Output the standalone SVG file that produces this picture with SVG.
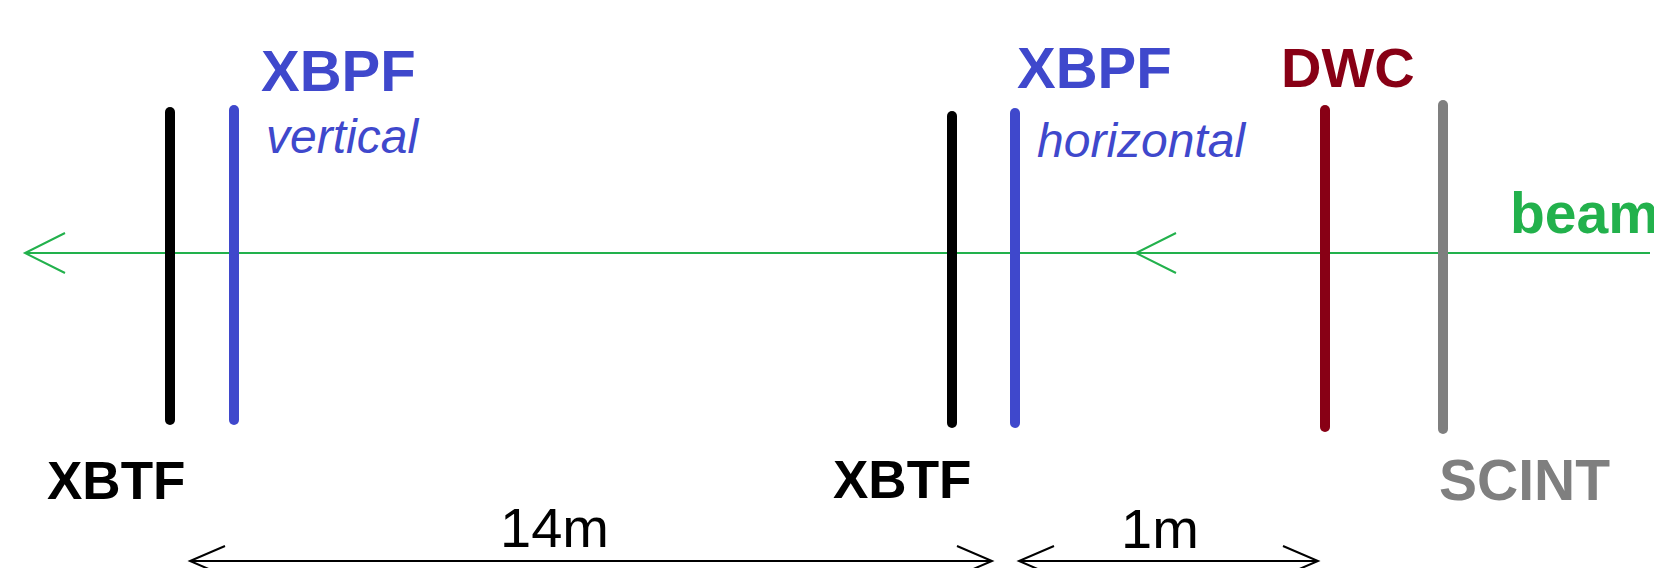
<svg xmlns="http://www.w3.org/2000/svg" width="1654" height="568" viewBox="0 0 1654 568">
  <style>
    .det { stroke-width: 10; stroke-linecap: round; fill: none; }
    .lbl { font-family: "Liberation Sans", Arial, sans-serif; font-weight: bold; }
    .sub { font-family: "Liberation Sans", Arial, sans-serif; font-style: italic; font-size: 48px; fill: #3f48cc; }
    .dimtxt { font-family: "Liberation Sans", Arial, sans-serif; font-size: 56px; fill: #000; }
    .beam { stroke: #22b14c; stroke-width: 2; fill: none; }
    .dim { stroke: #000; stroke-width: 2; fill: none; }
  </style>
  <defs>
    <marker id="gArrow" markerUnits="userSpaceOnUse" markerWidth="50" markerHeight="50" refX="0" refY="0" orient="auto" overflow="visible">
      <path d="M-40,-20 L0,0 L-40,20" fill="none" stroke="#22b14c" stroke-width="2"/>
    </marker>
    <marker id="kArrow" markerUnits="userSpaceOnUse" markerWidth="50" markerHeight="50" refX="0" refY="0" orient="auto-start-reverse" overflow="visible">
      <path d="M-35,-15 L0,0 L-35,15" fill="none" stroke="#000" stroke-width="2"/>
    </marker>
  </defs>
  <rect width="1654" height="568" fill="#fff"/>

  <g id="connectors">
    <path class="beam" d="M1650,253 L1136,253" marker-end="url(#gArrow)"/>
    <path class="beam" d="M1136,253 L25,253" marker-end="url(#gArrow)"/>
    <path class="dim" d="M190,561 L992,561" marker-start="url(#kArrow)" marker-end="url(#kArrow)"/>
    <path class="dim" d="M1019,561 L1318,561" marker-start="url(#kArrow)" marker-end="url(#kArrow)"/>
    <text class="dimtxt" x="500" y="547">14m</text>
    <text class="dimtxt" x="1121" y="548">1m</text>
  </g>

  <g id="xbtf1">
    <line class="det" x1="170" y1="112" x2="170" y2="420" stroke="#000"/>
    <text class="lbl" x="47" y="499" font-size="53" fill="#000">XBTF</text>
  </g>
  <g id="xbpf1">
    <line class="det" x1="234" y1="110" x2="234" y2="420" stroke="#3f48cc"/>
    <text class="lbl" x="261" y="91" font-size="58" fill="#3f48cc">XBPF</text>
    <text class="sub" x="266" y="153">vertical</text>
  </g>
  <g id="xbtf2">
    <line class="det" x1="952" y1="116" x2="952" y2="423" stroke="#000"/>
    <text class="lbl" x="833" y="498" font-size="53" fill="#000">XBTF</text>
  </g>
  <g id="xbpf2">
    <line class="det" x1="1015" y1="113" x2="1015" y2="423" stroke="#3f48cc"/>
    <text class="lbl" x="1017" y="88" font-size="58" fill="#3f48cc">XBPF</text>
    <text class="sub" x="1037" y="157">horizontal</text>
  </g>
  <g id="dwc">
    <line class="det" x1="1325" y1="110" x2="1325" y2="427" stroke="#880015"/>
    <text class="lbl" x="1281" y="87" font-size="56" fill="#880015">DWC</text>
  </g>
  <g id="scint">
    <line class="det" x1="1443" y1="105" x2="1443" y2="429" stroke="#7f7f7f"/>
    <text class="lbl" x="1439" y="500" font-size="57" fill="#7f7f7f">SCINT</text>
  </g>
  <g id="beam-label">
    <text class="lbl" x="1510" y="233" font-size="57" fill="#22b14c">beam</text>
  </g>
</svg>
